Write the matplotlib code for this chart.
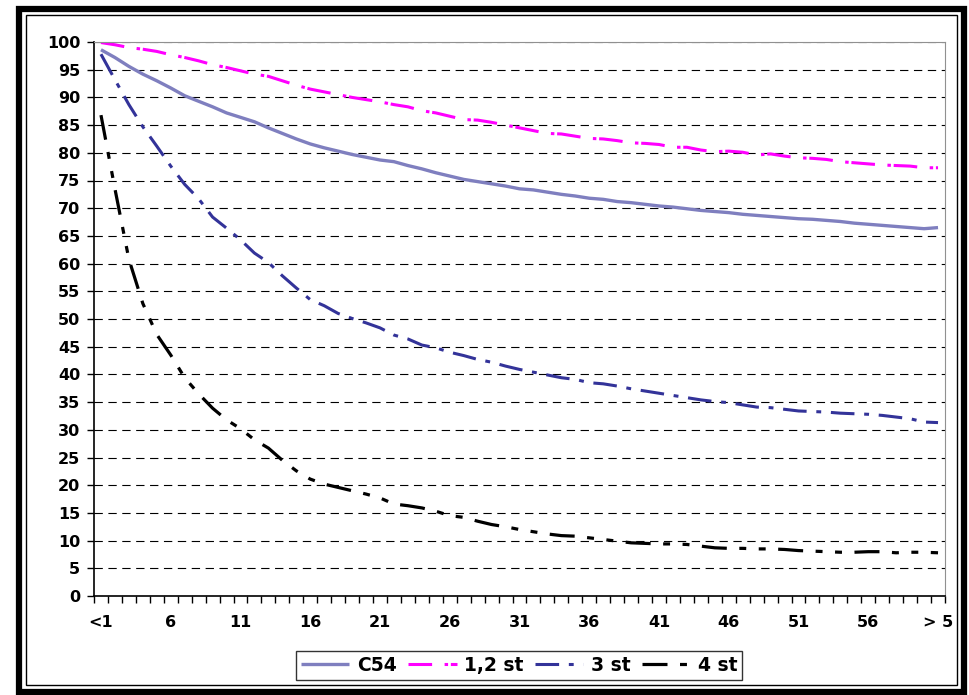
import matplotlib
matplotlib.use("Agg")
import matplotlib.pyplot as plt
from matplotlib.patches import Rectangle

# categories: "<1", 2 .. 60, "> 5"
categories = ["<1"] + [str(n) for n in range(2, 61)] + ["> 5"]

c54 = [98.6, 97.2, 95.6, 94.2, 93.0, 91.7, 90.3, 89.3, 88.3, 87.2,
       86.4, 85.6, 84.5, 83.5, 82.5, 81.6, 80.9, 80.3, 79.7, 79.2,
       78.7, 78.4, 77.7, 77.1, 76.4, 75.8, 75.2, 74.8, 74.4, 74.0,
       73.5, 73.3, 72.9, 72.5, 72.2, 71.8, 71.6, 71.2, 71.0, 70.7,
       70.4, 70.2, 69.9, 69.6, 69.4, 69.2, 68.9, 68.7, 68.5, 68.3,
       68.1, 68.0, 67.8, 67.6, 67.3, 67.1, 66.9, 66.7, 66.5, 66.3,
       66.5]

st12 = [99.9, 99.5, 99.0, 98.7, 98.3, 97.7, 97.2, 96.6, 95.9, 95.4,
        94.8, 94.2, 93.8, 93.0, 92.2, 91.5, 91.0, 90.5, 90.0, 89.6,
        89.2, 88.7, 88.3, 87.6, 87.2, 86.6, 86.0, 85.9, 85.5, 85.0,
        84.5, 84.0, 83.5, 83.4, 83.0, 82.6, 82.5, 82.2, 81.8, 81.7,
        81.5, 81.0, 81.0, 80.5, 80.2, 80.3, 80.1, 79.6, 79.8, 79.4,
        79.1, 79.0, 78.8, 78.4, 78.2, 78.0, 77.8, 77.7, 77.6, 77.3,
        77.3]

st3 = [97.8, 93.2, 88.7, 84.7, 81.2, 77.6, 74.3, 71.7, 68.4, 66.4,
       64.3, 61.9, 60.2, 57.8, 55.6, 53.5, 52.4, 51.0, 50.1, 49.3,
       48.4, 47.1, 46.4, 45.3, 44.8, 44.0, 43.4, 42.7, 42.2, 41.5,
       40.9, 40.4, 39.9, 39.4, 39.1, 38.5, 38.3, 37.9, 37.4, 37.0,
       36.6, 36.2, 35.8, 35.4, 35.1, 34.9, 34.5, 34.1, 34.0, 33.7,
       33.4, 33.3, 33.2, 33.0, 32.9, 32.8, 32.6, 32.3, 32.0, 31.4,
       31.3]

st4 = [86.8, 73.5, 60.8, 52.8, 47.2, 43.5, 39.4, 36.5, 33.9, 31.8,
       30.2, 28.2, 26.7, 24.5, 22.6, 21.1, 20.2, 19.6, 19.0, 18.4,
       17.7, 16.6, 16.3, 15.9, 15.3, 14.5, 14.2, 13.5, 12.9, 12.5,
       12.0, 11.6, 11.2, 10.9, 10.8, 10.5, 10.2, 9.9, 9.6, 9.5,
       9.4, 9.4, 9.3, 9.0, 8.7, 8.6, 8.6, 8.5, 8.5, 8.4,
       8.2, 8.1, 8.0, 7.9, 7.9, 8.0, 8.0, 7.8, 7.9, 7.9,
       7.8]

plt.rcParams['font.family'] = ['DejaVu Sans']
plt.rcParams['font.weight'] = 'bold'
plt.rcParams['lines.scale_dashes'] = False

fig = plt.figure(figsize=(9.69, 6.95), dpi=100)
W, H = 969, 695
ax = fig.add_axes([94 / W, 1 - 596 / H, (945 - 94) / W, (596 - 42) / H])

x = list(range(1, len(categories) + 1))
ax.plot(x, c54, color='#7f7fbf', lw=2.4, label='C54', solid_capstyle='butt')
ax.plot(x, st12, color='#ff00ff', lw=2.2, linestyle=(0, (17, 9, 2.5, 2)), label='1,2 st')
ax.plot(x, st3, color='#333399', lw=2.2, linestyle=(0, (17, 7, 3.5, 7)), label='3 st')
ax.plot(x, st4, color='black', lw=2.3, linestyle=(0, (18, 9, 5, 9, 5, 9)), label='4 st')

ax.set_xlim(0.5, len(categories) + 0.5)
ax.set_ylim(0, 100)
ax.set_yticks(range(0, 101, 5))
ax.yaxis.grid(True, color='black', lw=0.8, linestyle=(0, (6, 4)))
ax.set_axisbelow(True)
ax.tick_params(axis='y', length=5, width=1, pad=5, labelsize=11.5)

# tick marks between categories, labels every 5th category
ax.set_xticks([b + 0.5 for b in range(0, len(categories) + 1)])
ax.set_xticklabels([])
ax.tick_params(axis='x', which='major', length=5, width=1)
ax.set_xticks(x[::5], minor=True)
ax.set_xticklabels(categories[::5], minor=True)
ax.tick_params(axis='x', which='minor', length=0, pad=14, labelsize=11.5)

for s in ['top', 'right']:
    ax.spines[s].set_color('#909090')
for s in ['left', 'bottom']:
    ax.spines[s].set_color('black')
    ax.spines[s].set_linewidth(1.2)

leg = fig.legend(loc='center', bbox_to_anchor=(519 / W, 1 - 665.5 / H), ncol=4,
                 fontsize=13.5, frameon=True, fancybox=False, edgecolor='black',
                 handlelength=2.6, columnspacing=0.6, handletextpad=0.4,
                 borderpad=0.25, borderaxespad=0)
leg.get_frame().set_linewidth(1.0)

# outer frame: thick band and thin inner line
fig.add_artist(Rectangle((18.5 / W, 1 - 692 / H), (963.5 - 18.5) / W, (692 - 9) / H,
                         transform=fig.transFigure, fill=False, lw=4.5, edgecolor='black'))
fig.add_artist(Rectangle((26 / W, 1 - 685 / H), (957 - 26) / W, (685 - 15) / H,
                         transform=fig.transFigure, fill=False, lw=1.0, edgecolor='black'))

fig.savefig('out.png', dpi=100)
